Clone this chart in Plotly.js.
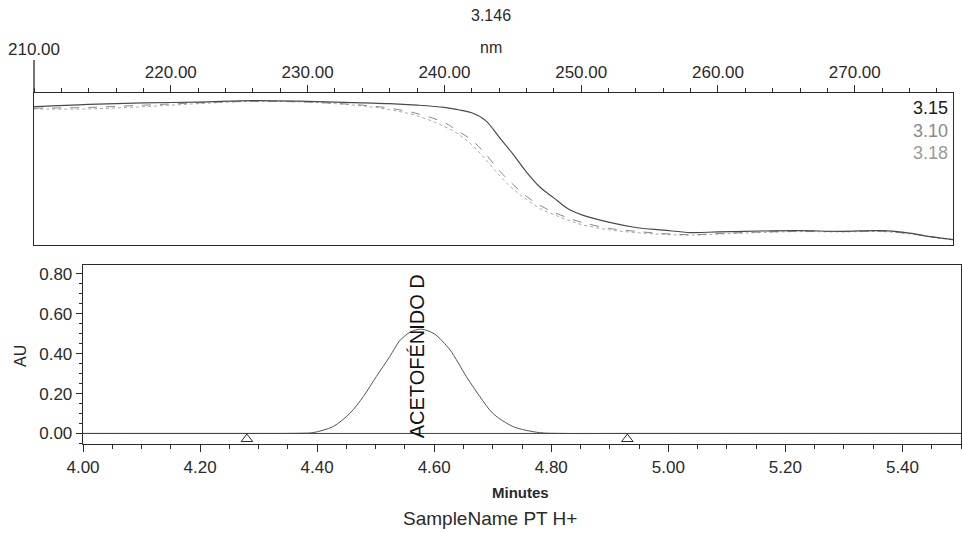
<!DOCTYPE html>
<html>
<head>
<meta charset="utf-8">
<script src="https://cdn.plot.ly/plotly-3.0.1.min.js"></script>
<style>html,body{margin:0;padding:0;background:#fff;}#chart{width:962px;height:533px;}</style>
</head>
<body>
<div id="chart"></div>
<script>
// ---- Spectrum panel (top): wavelength (nm) vs normalised absorbance ----
var wavelengths = [210, 214, 218, 222, 226, 230, 234, 236, 238, 240, 241, 242, 243, 244, 245, 246, 247, 248, 249, 250, 252, 254, 256, 258, 260, 263, 266, 269, 272, 274, 275.5, 277.2];
var spec315 = [0.91, 0.925, 0.935, 0.94, 0.95, 0.945, 0.935, 0.93, 0.92, 0.905, 0.89, 0.87, 0.82, 0.71, 0.60, 0.48, 0.38, 0.31, 0.24, 0.20, 0.15, 0.115, 0.098, 0.082, 0.086, 0.092, 0.094, 0.09, 0.094, 0.078, 0.055, 0.035];
var spec310 = [0.90, 0.905, 0.92, 0.935, 0.945, 0.94, 0.92, 0.90, 0.865, 0.805, 0.75, 0.69, 0.60, 0.49, 0.40, 0.32, 0.26, 0.215, 0.18, 0.15, 0.11, 0.09, 0.075, 0.068, 0.075, 0.085, 0.09, 0.088, 0.09, 0.075, 0.055, 0.035];
var spec318 = [0.895, 0.895, 0.91, 0.93, 0.945, 0.94, 0.915, 0.89, 0.85, 0.78, 0.73, 0.66, 0.565, 0.46, 0.37, 0.30, 0.24, 0.20, 0.165, 0.135, 0.10, 0.082, 0.07, 0.065, 0.072, 0.082, 0.088, 0.086, 0.088, 0.073, 0.053, 0.033];
var specLabels = ["3.15", "3.10", "3.18"];
var nmTicks = [220, 230, 240, 250, 260, 270];
var nmTickText = ["220.00", "230.00", "240.00", "250.00", "260.00", "270.00"];

// ---- Chromatogram panel (bottom): minutes vs AU ----
var minutes = [4.00, 4.10, 4.20, 4.28, 4.34, 4.37, 4.393, 4.427, 4.456, 4.479, 4.501, 4.524, 4.541, 4.560, 4.578, 4.600, 4.627, 4.655, 4.678, 4.700, 4.735, 4.780, 4.82, 4.93, 5.05, 5.20, 5.35, 5.50];
var au =      [0.000, 0.000, 0.000, 0.000, 0.000, 0.001, 0.004, 0.034, 0.101, 0.185, 0.285, 0.385, 0.465, 0.510, 0.523, 0.500, 0.419, 0.285, 0.185, 0.101, 0.034, 0.004, 0.000, 0.000, 0.000, 0.000, 0.000, 0.000];
var peakMarksX = [4.28, 4.93];
var peakMarksY = [-0.028, -0.028];
var peakName = "ACETOFÉNIDO D";
var peakLabelX = 4.57;
var peakLabelY = 0.385;
var minTicks = [4.0, 4.2, 4.4, 4.6, 4.8, 5.0, 5.2, 5.4];
var minTickText = ["4.00", "4.20", "4.40", "4.60", "4.80", "5.00", "5.20", "5.40"];
var auTicks = [0, 0.2, 0.4, 0.6, 0.8];
var auTickText = ["0.00", "0.20", "0.40", "0.60", "0.80"];

var W = 962, H = 533;
function px(x){ return x / W; }
function py(y){ return 1 - y / H; }
var FONT = "Arial, 'Liberation Sans', sans-serif";
var INK = "#2a2a2a";

var traces = [
  {x: wavelengths, y: spec318, xaxis: "x2", yaxis: "y2", mode: "lines", line: {color: "#a8a8a8", width: 1, dash: "dot", shape: "spline"}, hoverinfo: "skip"},
  {x: wavelengths, y: spec310, xaxis: "x2", yaxis: "y2", mode: "lines", line: {color: "#8a8a8a", width: 1, dash: "dash", shape: "spline"}, hoverinfo: "skip"},
  {x: wavelengths, y: spec315, xaxis: "x2", yaxis: "y2", mode: "lines", line: {color: "#4a4a4a", width: 1.2, shape: "spline"}, hoverinfo: "skip"},
  {x: minutes, y: au, xaxis: "x", yaxis: "y", mode: "lines", line: {color: "#555", width: 1, shape: "spline", smoothing: 0.8}, hoverinfo: "skip"},
  {x: peakMarksX, y: peakMarksY, xaxis: "x", yaxis: "y", mode: "markers", marker: {symbol: "triangle-up-open", size: 10, color: INK, line: {width: 1, color: INK}}, hoverinfo: "skip"}
];

var layout = {
  width: W, height: H,
  margin: {l: 0, r: 0, t: 0, b: 0},
  paper_bgcolor: "#fff", plot_bgcolor: "#fff",
  showlegend: false,
  font: {family: FONT, color: INK, size: 17},
  xaxis2: {
    domain: [px(34), px(953)], anchor: "y2", side: "top",
    range: [210, 277.18], showgrid: false, zeroline: false,
    showline: true, mirror: true, linecolor: INK, linewidth: 1.3,
    ticks: "outside", ticklen: 7, tickwidth: 1, tickcolor: INK,
    tickvals: nmTicks, ticktext: nmTickText,
    tickfont: {size: 17, family: FONT, color: INK},
    minor: {dtick: 2, ticks: "outside", ticklen: 4, tickcolor: INK, tickwidth: 1, showgrid: false}
  },
  yaxis2: {
    domain: [py(245), py(93)], anchor: "x2", range: [0, 1],
    showgrid: false, zeroline: false, showticklabels: false, ticks: "",
    showline: true, mirror: true, linecolor: INK, linewidth: 1.3
  },
  xaxis: {
    domain: [px(83), px(961)], anchor: "y",
    range: [4.0, 5.5], showgrid: false, zeroline: false,
    showline: true, mirror: true, linecolor: INK, linewidth: 1.3,
    ticks: "outside", ticklen: 7, tickwidth: 1, tickcolor: INK,
    tickvals: minTicks, ticktext: minTickText,
    tickfont: {size: 17, family: FONT, color: INK},
    minor: {dtick: 0.05, ticks: "outside", ticklen: 4, tickcolor: INK, tickwidth: 1, showgrid: false}
  },
  yaxis: {
    domain: [py(444), py(265)], anchor: "x",
    range: [-0.053, 0.845], showgrid: false, zeroline: false,
    showline: true, mirror: true, linecolor: INK, linewidth: 1.3,
    ticks: "outside", ticklen: 6, tickwidth: 1, tickcolor: INK,
    tickvals: auTicks, ticktext: auTickText,
    tickfont: {size: 17, family: FONT, color: INK},
    minor: {dtick: 0.05, ticks: "outside", ticklen: 3, tickcolor: INK, tickwidth: 1, showgrid: false}
  },
  shapes: [
    {type: "line", xref: "paper", yref: "paper", x0: px(34), x1: px(34), y0: py(93), y1: py(60), line: {color: INK, width: 1.3}},
    {type: "line", xref: "x", yref: "y", x0: 4.0, x1: 5.5, y0: 0, y1: 0, line: {color: "#444", width: 1}}
  ],
  annotations: [
    {text: "3.146", xref: "paper", yref: "paper", x: px(491), y: py(16), xanchor: "center", yanchor: "middle", showarrow: false, font: {size: 16, family: FONT, color: INK}},
    {text: "nm", xref: "paper", yref: "paper", x: px(491), y: py(47), xanchor: "center", yanchor: "middle", showarrow: false, font: {size: 16, family: FONT, color: INK}},
    {text: "210.00", xref: "paper", yref: "paper", x: px(34), y: py(50), xanchor: "center", yanchor: "middle", showarrow: false, font: {size: 17, family: FONT, color: INK}},
    {text: specLabels[0], xref: "paper", yref: "paper", x: px(950), y: py(108), xanchor: "right", yanchor: "middle", showarrow: false, font: {size: 18, family: FONT, color: "#1a1a1a"}},
    {text: specLabels[1], xref: "paper", yref: "paper", x: px(950), y: py(131), xanchor: "right", yanchor: "middle", showarrow: false, font: {size: 18, family: FONT, color: "#8a8a8a"}},
    {text: specLabels[2], xref: "paper", yref: "paper", x: px(950), y: py(153), xanchor: "right", yanchor: "middle", showarrow: false, font: {size: 18, family: FONT, color: "#9a9a9a"}},
    {text: "AU", xref: "paper", yref: "paper", x: px(20), y: py(356), xanchor: "center", yanchor: "middle", textangle: -90, showarrow: false, font: {size: 16, family: FONT, color: INK}},
    {text: "<b>Minutes</b>", xref: "paper", yref: "paper", x: px(520), y: py(492), xanchor: "center", yanchor: "middle", showarrow: false, font: {size: 15, family: FONT, color: INK}},
    {text: "SampleName PT H+", xref: "paper", yref: "paper", x: px(490), y: py(518), xanchor: "center", yanchor: "middle", showarrow: false, font: {size: 19, family: FONT, color: INK}},
    {text: peakName, xref: "x", yref: "y", x: peakLabelX, y: peakLabelY, xanchor: "center", yanchor: "middle", textangle: -90, showarrow: false, font: {size: 20, family: FONT, color: "#111"}}
  ]
};

Plotly.newPlot("chart", traces, layout, {staticPlot: true, displayModeBar: false});
</script>
</body>
</html>
